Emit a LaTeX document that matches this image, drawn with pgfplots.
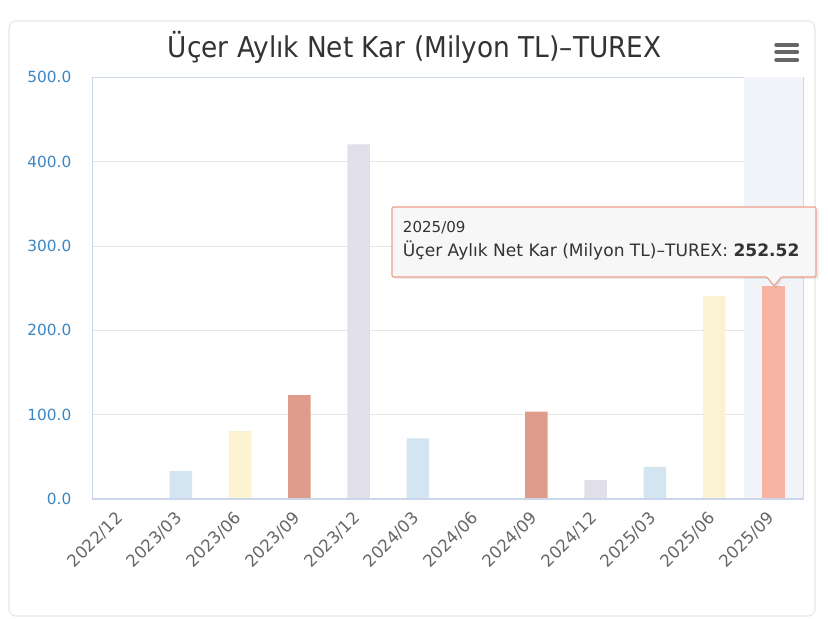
\documentclass[border=0pt]{standalone}
\usepackage{fontspec}
\setmainfont{DejaVu Sans}
\usepackage{graphicx}
\usepackage{pgfplots}
\pgfplotsset{compat=1.18}
\definecolor{cblue}{RGB}{211,229,241}
\definecolor{cyellow}{RGB}{250,242,208}
\definecolor{cred}{RGB}{224,156,138}
\definecolor{clav}{RGB}{225,223,234}
\definecolor{csalmon}{RGB}{247,180,162}
\definecolor{band}{RGB}{241,244,249}
\definecolor{gridc}{RGB}{230,230,230}
\definecolor{axc}{RGB}{204,214,235}
\definecolor{ylab}{RGB}{60,134,196}
\definecolor{xlab}{RGB}{102,102,102}
\definecolor{titc}{RGB}{51,51,51}
\definecolor{tipborder}{RGB}{236,160,140}
\definecolor{tipfill}{RGB}{247,247,247}
\begin{document}
\begin{tikzpicture}
\path[fill=white] (0,0) rectangle (621pt,463.5pt);
\draw[color=gridc, line width=0.8pt, rounded corners=5pt] (6.75pt,1.5pt) rectangle (611.25pt,447.75pt);
\begin{axis}[
  at={(69pt,89.25pt)}, anchor=south west,
  scale only axis, width=533.25pt, height=316.2pt,
  xmin=-0.5, xmax=11.5, ymin=0, ymax=500,
  xtick={0,...,11},
  xticklabels={2022/12,2023/03,2023/06,2023/09,2023/12,2024/03,2024/06,2024/09,2024/12,2025/03,2025/06,2025/09},
  ytick={0,100,200,300,400,500},
  major tick length=0pt,
  ymajorgrids, grid style={color=gridc, line width=0.75pt},
  axis line style={color=axc, line width=0.75pt},
  yticklabel style={color=ylab, font=\fontsize{11.5}{12}\selectfont, xshift=-12pt},
  /pgf/number format/assume math mode=true,
  yticklabel={\pgfmathprintnumber[fixed,fixed zerofill,precision=1]{\tick}},
  xticklabel shift=11pt,
  xticklabel style={color=xlab, font=\fontsize{12.5}{13}\selectfont, rotate=45, anchor=east, xshift=1.5pt},
  ybar, bar width=0.38,
  every axis plot/.append style={bar shift=0pt, draw=none},
  clip=false,
]
\fill[band] (axis cs:10.5,0) rectangle (axis cs:11.5,500);
\addplot[fill=clav] coordinates {(0,0) (4,420.6) (8,22.5)};
\addplot[fill=cblue] coordinates {(1,33.2) (5,72) (9,38)};
\addplot[fill=cyellow] coordinates {(2,80.6) (6,0) (10,240.7)};
\addplot[fill=cred] coordinates {(3,123.3) (7,103.5)};
\addplot[fill=csalmon] coordinates {(11,252.52)};
\draw[axc, line width=1.5pt] (axis cs:-0.5,0) -- (axis cs:11.5,0);
\end{axis}
% title
\node[anchor=base, text=titc] at (311pt,420.5pt) {\scalebox{0.92}[1]{\fontsize{21.5}{24}\selectfont Üçer Aylık Net Kar (Milyon TL)–TUREX}};
% menu icon
\foreach \yy in {429.75,424.5,418.5}{
  \draw[color=xlab, line width=2.6pt, line cap=round] (582pt,\yy pt) -- (598pt,\yy pt);
}
% tooltip
\fill[black, opacity=0.08] (296pt,254.25pt) -- (296pt,306.75pt) -- (614pt,306.75pt) -- (614pt,254.25pt) -- (587pt,254.25pt) -- (582pt,246.75pt) -- (577pt,254.25pt) -- cycle;
\draw[tipborder, fill=tipfill, line width=0.9pt, rounded corners=1pt] (294pt,255.75pt) -- (294pt,308.25pt) -- (612pt,308.25pt) -- (612pt,255.75pt) -- (586pt,255.75pt) -- (580.5pt,249pt) -- (575pt,255.75pt) -- cycle;
\node[anchor=base west, inner sep=0pt, text=titc] at (302pt,288.75pt) {\fontsize{11.3}{13}\selectfont 2025/09};
\node[anchor=base west, inner sep=0pt, text=titc] at (302pt,270.75pt) {\fontsize{12.8}{15}\selectfont Üçer Aylık Net Kar (Milyon TL)–TUREX: \textbf{252.52}};
\end{tikzpicture}
\end{document}
